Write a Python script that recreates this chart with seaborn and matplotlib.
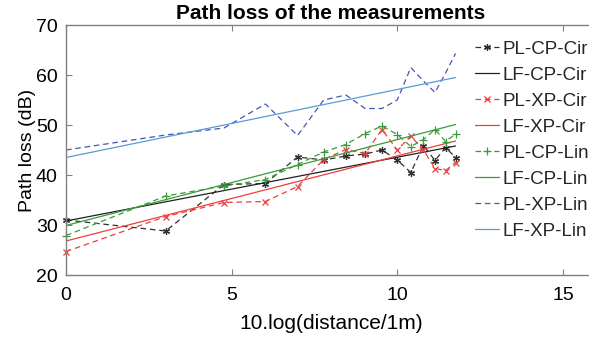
import matplotlib
matplotlib.use("Agg")
import matplotlib.pyplot as plt
import seaborn as sns
import pandas as pd

# ---- data ----
dist_db = [0, 3.01, 4.77, 6.02, 6.99, 7.78, 8.45, 9.03, 9.54, 10.0, 10.41, 10.79, 11.14, 11.46, 11.76]
pl_cp_cir = [31.0, 28.8, 38.1, 38.3, 43.6, 43.0, 43.8, 44.2, 45.0, 43.0, 40.5, 45.9, 42.9, 45.5, 43.5]
pl_xp_cir = [24.7, 31.7, 34.5, 34.7, 37.7, 43.1, 45.1, 44.3, 49.1, 45.0, 47.8, 45.0, 41.3, 40.9, 42.5]
pl_cp_lin = [27.9, 35.8, 37.8, 39.1, 42.1, 44.6, 46.1, 48.3, 49.8, 48.1, 45.7, 47.1, 49.1, 46.7, 48.2]
pl_xp_lin = [45.0, 48.0, 49.4, 54.2, 47.9, 55.0, 56.0, 53.3, 53.3, 55.0, 61.5, 58.8, 56.5, 60.4, 64.3]

fit_x = [0, 11.76]
lf_cp_cir = [30.8, 45.8]
lf_xp_cir = [26.8, 46.8]
lf_cp_lin = [29.9, 50.1]
lf_xp_lin = [43.5, 59.5]

x_ticks = [0, 5, 10, 15]
y_ticks = [20, 30, 40, 50, 60, 70]

sns.set_theme(style="white")
plt.rcParams['font.family'] = ['Liberation Sans', 'DejaVu Sans']

fig = plt.figure(figsize=(5.89, 3.41), dpi=100)
ax = fig.add_axes([66/589, 1-275/341, 530/589, 250/341])

dash = (0, (4.5, 3))
lw = 0.9

series = [
    ("PL-CP-Cir", dist_db, pl_cp_cir, "#303030", dash, (6, 2, 0), 5),
    ("LF-CP-Cir", fit_x, lf_cp_cir, "#202020", "-", None, 0),
    ("PL-XP-Cir", dist_db, pl_xp_cir, "#f03c3c", dash, "x", 5),
    ("LF-XP-Cir", fit_x, lf_xp_cir, "#f03c3c", "-", None, 0),
    ("PL-CP-Lin", dist_db, pl_cp_lin, "#3a9a3a", dash, "+", 6),
    ("LF-CP-Lin", fit_x, lf_cp_lin, "#3a9a3a", "-", None, 0),
    ("PL-XP-Lin", dist_db, pl_xp_lin, "#4755b5", dash, None, 0),
    ("LF-XP-Lin", fit_x, lf_xp_lin, "#5b9bd5", "-", None, 0),
]

for name, xs, ys, col, ls, mk, ms in series:
    df = pd.DataFrame({"x": xs, "y": ys})
    kw = dict(color=col, linestyle=ls, linewidth=lw, label=name)
    if mk is not None:
        kw.update(marker=mk, markersize=ms, markeredgewidth=0.9,
                  markeredgecolor=col, markerfacecolor=col, clip_on=False)
    sns.lineplot(data=df, x="x", y="y", ax=ax, sort=False, estimator=None, **kw)

ax.set_xlim(0, 16)
ax.set_ylim(20, 70)
ax.set_xticks(x_ticks)
ax.set_yticks(y_ticks)

for side in ["left", "bottom", "top"]:
    ax.spines[side].set_visible(True)
    ax.spines[side].set_color("#808080")
    ax.spines[side].set_linewidth(1.0)
ax.spines["right"].set_visible(False)

ax.tick_params(axis="both", direction="in", length=4, width=0.8, color="#808080",
               labelsize=14, labelcolor="black",
               top=True, bottom=True, left=True, right=False)
ax.tick_params(axis="x", labeltop=False, pad=9)
ax.tick_params(axis="y", pad=6)

ax.set_xlabel("10.log(distance/1m)", fontsize=15, color="black", labelpad=7)
ax.set_ylabel("Path loss (dB)", fontsize=14, color="black", labelpad=0)
ax.set_title("Path loss of the measurements", fontsize=15, fontweight="bold",
             color="black", pad=4)

leg = ax.legend(loc="upper left", bbox_to_anchor=(473/589, 1-39/341),
                bbox_transform=fig.transFigure, frameon=True, fontsize=13.5,
                handlelength=1.3, handletextpad=0.15, labelspacing=0.47,
                borderpad=0.1, borderaxespad=0, numpoints=1)
leg.get_frame().set_facecolor("white")
leg.get_frame().set_edgecolor("white")
leg.get_frame().set_alpha(1.0)

fig.savefig("out.png", dpi=100)
